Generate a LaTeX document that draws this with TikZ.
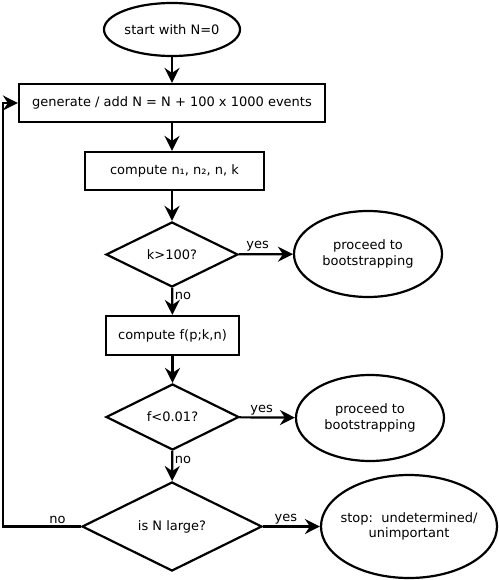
\documentclass[tikz,border=0pt]{standalone}
\usepackage{fontspec}
\setmainfont{DejaVu Sans}
\usetikzlibrary{shapes.geometric,arrows.meta}
\begin{document}
\begin{tikzpicture}[x=1pt,y=-1pt,
  every node/.style={font=\fontsize{13}{15.5}\selectfont},
  oval/.style={draw,line width=2.2pt,ellipse,inner sep=0pt,align=center},
  boxnode/.style={draw,line width=2.2pt,rectangle,inner sep=0pt},
  decision/.style={draw,line width=2.2pt,diamond,inner sep=0pt,aspect=2},
  lab/.style={inner sep=1.5pt},
  conn/.style={line width=2.2pt,-{Stealth[length=15pt,width=15pt,inset=5pt]}}]
\useasboundingbox (0,0) rectangle (498,580);
\node[oval,minimum width=136pt,minimum height=53pt] (start) at (172,29.5) {start with N=0};
\node[boxnode,minimum width=306pt,minimum height=38pt] (gen) at (172,103) {generate / add N = N + 100 x 1000 events};
\node[boxnode,minimum width=179pt,minimum height=38pt] (comp) at (174.5,171) {compute n₁, n₂, n, k};
\node[decision,minimum width=132pt,minimum height=65pt] (dk) at (172,254.5) {k>100?};
\node[oval,minimum width=148pt,minimum height=86pt] (boot1) at (368,254) {proceed to\\bootstrapping};
\node[boxnode,minimum width=133pt,minimum height=39pt] (compf) at (172.5,335.5) {compute f(p;k,n)};
\node[decision,minimum width=133pt,minimum height=66pt] (df) at (172.5,417) {f<0.01?};
\node[oval,minimum width=148pt,minimum height=86pt] (boot2) at (370,418) {proceed to\\bootstrapping};
\node[decision,minimum width=180pt,minimum height=89pt] (dn) at (172,526.5) {is N large?};
\node[oval,inner xsep=-40pt,minimum width=176pt,minimum height=103pt] (stop) at (409,526.5) {stop:\ \ undetermined/\\unimportant};
\coordinate (cb) at (3,526.5);
\coordinate (ct) at (3,103);
\draw[conn] (start) -- (gen);
\draw[conn] (gen) -- (comp.north -| gen);
\draw[conn] (comp.south -| gen) -- (dk);
\draw[conn] (dk) -- node[lab,above,pos=0.35]{yes} (boot1);
\draw[conn] (dk) -- node[lab,right,pos=0.3]{no} (compf);
\draw[conn] (compf) -- (df);
\draw[conn] (df) -- node[lab,above,pos=0.4]{yes} (boot2);
\draw[conn] (df) -- node[lab,right,pos=0.3]{no} (dn);
\draw[conn] (dn) -- node[lab,above,pos=0.4]{yes} (stop);
\draw[conn] (dn.west) -- node[lab,above,pos=0.3]{no} (cb) -- (ct) -- (gen.west);
\end{tikzpicture}
\end{document}
